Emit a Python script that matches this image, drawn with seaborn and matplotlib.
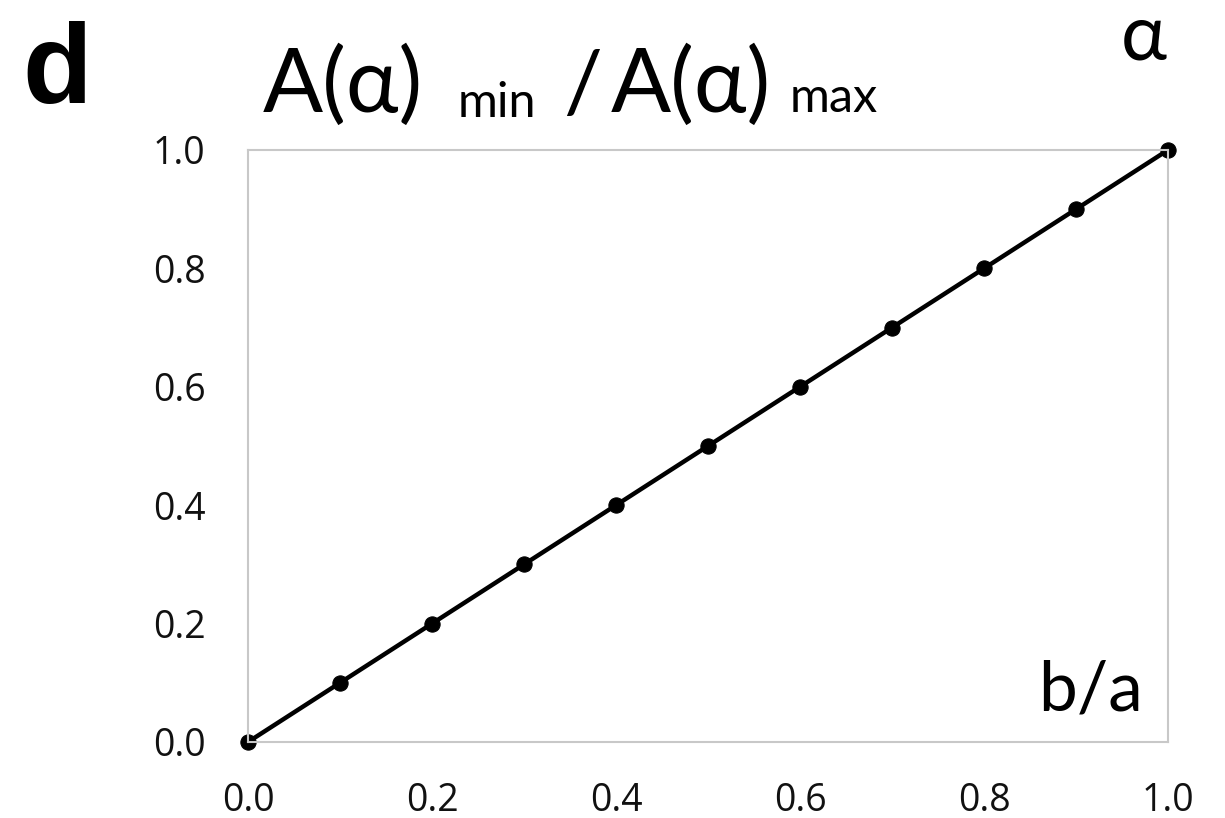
import matplotlib
matplotlib.use("Agg")
import matplotlib.pyplot as plt
import seaborn as sns
import pandas as pd

# Data
b_over_a = [0.0, 0.1, 0.2, 0.3, 0.4, 0.5, 0.6, 0.7, 0.8, 0.9, 1.0]
ratio = [0.0, 0.1, 0.2, 0.3, 0.4, 0.5, 0.6, 0.7, 0.8, 0.9, 1.0]
x_ticks = [0.0, 0.1, 0.2, 0.3, 0.4, 0.5, 0.6, 0.7, 0.8, 0.9, 1.0]
x_ticklabels = ["0.0", "", "0.2", "", "0.4", "", "0.6", "", "0.8", "", "1.0"]
y_ticks = [0.0, 0.2, 0.4, 0.6, 0.8, 1.0]
y_ticklabels = ["0.0", "0.2", "0.4", "0.6", "0.8", "1.0"]

df = pd.DataFrame({"b/a": b_over_a, "ratio": ratio})

sns.set_theme(style="white")
plt.rcParams["font.family"] = ["Open Sans", "DejaVu Sans"]
plt.rcParams["text.color"] = "black"

W, H = 1225, 818
fig = plt.figure(figsize=(W / 100, H / 100), dpi=100)
ax = fig.add_axes([248 / W, 76 / H, 920 / W, 592 / H])

sns.lineplot(data=df, x="b/a", y="ratio", ax=ax, color="black", linewidth=3.2,
             marker="o", markersize=11, markeredgecolor="black", clip_on=False)

ax.set_xlim(0, 1)
ax.set_ylim(0, 1)
ax.set_xticks(x_ticks)
ax.set_xticklabels(x_ticklabels)
ax.set_yticks(y_ticks)
ax.set_yticklabels(y_ticklabels)
ax.set_xlabel("")
ax.set_ylabel("")
for s in ax.spines.values():
    s.set_color("#c8c8c8")
    s.set_linewidth(1.5)
ax.tick_params(axis="both", direction="out", length=11.5, width=1.5, color="#c8c8c8",
               labelsize=27, labelcolor="#111111")
ax.tick_params(axis="x", pad=17)
ax.tick_params(axis="y", pad=19)

# Labels
TF = ["Lato", "DejaVu Sans"]
fig.text(22 / W, 1 - 103 / H, "d", fontsize=82, fontweight="bold", color="black",
         family=["Liberation Sans"], ha="left", va="baseline")
ty = 1 - 112 / H
fig.text(263 / W, ty, "A(α)", fontsize=64, family=TF, color="black", ha="left", va="baseline")
fig.text(458 / W, 1 - 117 / H, "min", fontsize=35, family=TF, color="black", ha="left", va="baseline")
fig.text(563 / W, ty, "/", fontsize=62, family=TF, color="black", ha="left", va="baseline")
fig.text(611 / W, ty, "A(α)", fontsize=64, family=TF, color="black", ha="left", va="baseline")
fig.text(790 / W, ty, "max", fontsize=35, family=TF, color="black", ha="left", va="baseline")
fig.text(1121 / W, 1 - 2 / H, "α", fontsize=56, family=TF, color="black", ha="left", va="top")
fig.text(1143 / W, 1 - 710 / H, "b/a", fontsize=50, family=TF, color="black", ha="right", va="baseline")

fig.savefig("out.png", dpi=100)
